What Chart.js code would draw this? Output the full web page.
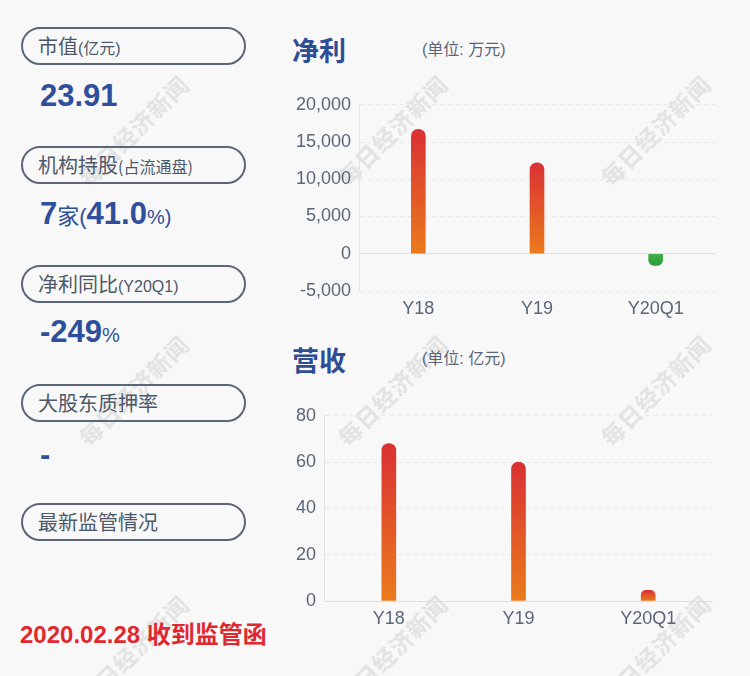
<!DOCTYPE html>
<html>
<head>
<meta charset="utf-8">
<script src="https://cdn.jsdelivr.net/npm/chart.js@4"></script>
<style>
  html, body { margin:0; padding:0; }
  body { width:750px; height:676px; background:#f8f8f8; position:relative; overflow:hidden;
         font-family:"Liberation Sans", Arial, "Noto Sans CJK SC", sans-serif; }
  .wm { position:absolute; width:200px; height:30px; margin-left:-100px; margin-top:-15px;
        text-align:center; line-height:30px; font-size:23px; font-weight:bold; color:#e3e3e3;
        font-family:"Noto Sans CJK SC", sans-serif; transform:rotate(-45deg); letter-spacing:1px; z-index:0; }
  .pill { position:absolute; left:21px; width:225px; height:38px; box-sizing:border-box;
          border:2px solid #5b6677; border-radius:19px; padding-left:15px; line-height:33px;
          font-size:20px; color:#4d5868; font-family:"Noto Sans CJK SC", sans-serif; z-index:1; }
  .pill small { font-size:16px; font-family:"Liberation Sans", "Noto Sans CJK SC", sans-serif; }
  .pill small.cjk { font-family:"Noto Sans CJK SC", sans-serif; }
  .val { position:absolute; left:40px; height:40px; line-height:40px; color:#2f4e9b; white-space:nowrap;
         font-family:"Liberation Sans", Arial, sans-serif; z-index:1; }
  .val b { font-size:31px; font-weight:bold; }
  .val .s { font-size:20px; font-family:"Liberation Sans","Noto Sans CJK SC", sans-serif; }
  .title { position:absolute; font-family:"Noto Sans CJK SC", sans-serif; font-weight:bold; font-size:27px;
           color:#2f4d94; line-height:34px; z-index:1; }
  .unit { position:absolute; font-family:"Liberation Sans","Noto Sans CJK SC", sans-serif; font-size:16px;
          color:#5a6678; line-height:20px; z-index:1; }
  .red { position:absolute; left:20px; top:620px; line-height:30px; font-size:24px; font-weight:bold; color:#e0282e;
         font-family:"Liberation Sans","Noto Sans CJK SC", sans-serif; white-space:nowrap; z-index:1; }
  canvas { position:absolute; z-index:2; }
</style>
</head>
<body>
<div class="wm" style="left:133px;top:130px">每日经济新闻</div>
<div class="wm" style="left:392px;top:130px">每日经济新闻</div>
<div class="wm" style="left:655px;top:130px">每日经济新闻</div>
<div class="wm" style="left:133px;top:390px">每日经济新闻</div>
<div class="wm" style="left:392px;top:390px">每日经济新闻</div>
<div class="wm" style="left:655px;top:390px">每日经济新闻</div>
<div class="wm" style="left:133px;top:650px">每日经济新闻</div>
<div class="wm" style="left:392px;top:650px">每日经济新闻</div>
<div class="wm" style="left:655px;top:650px">每日经济新闻</div>

<div class="pill" style="top:27px">市值<small>(亿元)</small></div>
<div class="val" style="top:76px"><b>23.91</b></div>

<div class="pill" style="top:146px">机构持股<small class="cjk">(占流通盘)</small></div>
<div class="val" style="top:194px"><b>7</b><span class="s" style="font-size:22px">家(</span><b>41.0</b><span class="s">%)</span></div>

<div class="pill" style="top:265px">净利同比<small>(Y20Q1)</small></div>
<div class="val" style="top:312px"><b>-249</b><span class="s">%</span></div>

<div class="pill" style="top:384px">大股东质押率</div>
<div class="val" style="top:435px"><b>-</b></div>

<div class="pill" style="top:503px">最新监管情况</div>

<div class="red">2020.02.28 收到监管函</div>

<div class="title" style="left:292px;top:33px">净利</div>
<div class="unit" style="left:422px;top:40px">(单位: 万元)</div>
<div class="title" style="left:292px;top:343px">营收</div>
<div class="unit" style="left:422px;top:349px">(单位: 亿元)</div>

<canvas id="c1" width="440" height="235" style="left:285px;top:86px"></canvas>
<canvas id="c2" width="445" height="234" style="left:280px;top:397px"></canvas>

<script>
const categories = ['Y18', 'Y19', 'Y20Q1'];
const profitValues = [16700, 12200, -1550];   // 净利 (万元)
const revenueValues = [68, 60, 4.6];          // 营收 (亿元)
const profitAxis = { min: -5000, max: 20000, step: 5000 };
const revenueAxis = { min: 0, max: 80, step: 20 };

const tickColor = '#5a6678';
const tickFont = { family: '"Liberation Sans", Arial, sans-serif', size: 18 };

function barColor(ctx) {
  const chart = ctx.chart;
  const area = chart.chartArea;
  const v = ctx.raw;
  if (!area) return v < 0 ? '#3aa844' : '#e0452b';
  const ys = chart.scales.y;
  const y0 = ys.getPixelForValue(0);
  const y1 = ys.getPixelForValue(v);
  const g = chart.ctx.createLinearGradient(0, Math.min(y0, y1), 0, Math.max(y0, y1) + 0.01);
  if (v < 0) {
    g.addColorStop(0, '#43b24a');
    g.addColorStop(1, '#2f9a3a');
  } else {
    g.addColorStop(0, '#da3033');
    g.addColorStop(1, '#ea7b1c');
  }
  return g;
}

function makeChart(id, values, axis, yWidth, padTop, padRight) {
  return new Chart(document.getElementById(id), {
    type: 'bar',
    data: {
      labels: categories,
      datasets: [{
        data: values,
        backgroundColor: barColor,
        barThickness: 14,
        borderRadius: 7,
        borderSkipped: 'start'
      }]
    },
    options: {
      responsive: false,
      animation: false,
      devicePixelRatio: 1,
      layout: { padding: { top: padTop, right: padRight, left: 0, bottom: 0 } },
      plugins: { legend: { display: false }, tooltip: { enabled: false } },
      scales: {
        x: {
          grid: { display: false, drawTicks: false },
          border: { display: false },
          ticks: { color: tickColor, font: tickFont, padding: 7 },
          afterFit: s => { s.height = 30; }
        },
        y: {
          min: axis.min, max: axis.max,
          ticks: { stepSize: axis.step, color: tickColor, font: tickFont, padding: 8 },
          grid: {
            drawTicks: false,
            color: c => (c.tick && c.tick.value === 0) ? '#dddddd' : '#e8e8e8',
            lineWidth: 1
          },
          border: {
            display: true, color: '#e4e4e4', width: 1,
            dash: c => (c.tick && c.tick.value === 0) ? [] : [4, 4]
          },
          afterFit: s => { s.width = yWidth; }
        }
      }
    }
  });
}

makeChart('c1', profitValues, profitAxis, 74, 10, 10);
makeChart('c2', revenueValues, revenueAxis, 44, 11, 12);
</script>
</body>
</html>
